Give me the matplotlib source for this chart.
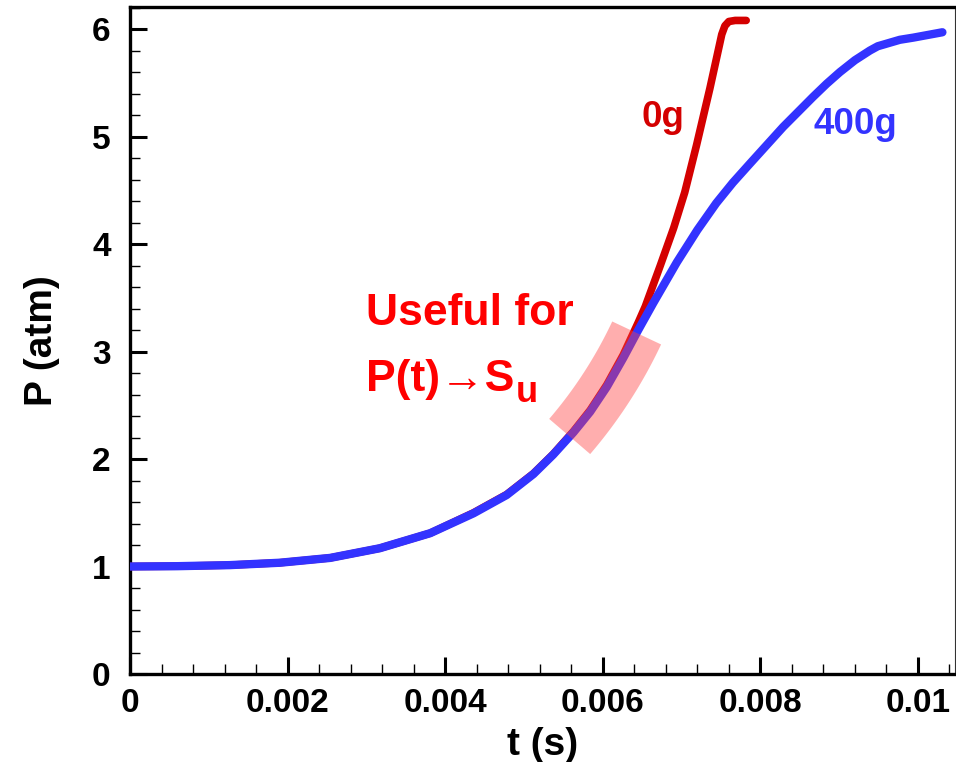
import numpy as np
import matplotlib
matplotlib.use("Agg")
import matplotlib.pyplot as plt
from matplotlib.ticker import FixedLocator, MultipleLocator, FixedFormatter
from matplotlib.patches import Polygon

plt.rcParams['font.family'] = ['Liberation Sans', 'DejaVu Sans']
plt.rcParams['font.weight'] = 'bold'

# Pressure traces, P (atm) versus t (s)
t_400g = [0.0, 0.0006, 0.00127, 0.0019, 0.00254, 0.00317, 0.00381, 0.00436,
          0.00478, 0.00512, 0.00537, 0.00563, 0.00584, 0.00605, 0.00626,
          0.00645, 0.00664, 0.00694, 0.0072, 0.00744, 0.00765, 0.00787,
          0.00808, 0.00829, 0.00848, 0.00867, 0.00884, 0.00901, 0.0092,
          0.00939, 0.00949, 0.00977, 0.00994, 0.01031]
p_400g = [1.0, 1.003, 1.013, 1.035, 1.08, 1.17, 1.31, 1.495,
          1.665, 1.86, 2.04, 2.25, 2.44, 2.67, 2.94,
          3.20, 3.45, 3.83, 4.13, 4.38, 4.57, 4.75,
          4.92, 5.09, 5.23, 5.37, 5.49, 5.60, 5.71,
          5.80, 5.84, 5.90, 5.92, 5.97]

t_0g = [0.0, 0.0006, 0.00127, 0.0019, 0.00254, 0.00317, 0.00381, 0.00436,
        0.00478, 0.00512, 0.00537, 0.00563, 0.00584, 0.00605, 0.00626,
        0.00645, 0.00654, 0.00673, 0.0069, 0.00704, 0.00719, 0.00736,
        0.00745, 0.00751, 0.00755, 0.0076, 0.00768, 0.00782]
p_0g = [1.0, 1.003, 1.013, 1.035, 1.08, 1.17, 1.31, 1.50,
        1.67, 1.865, 2.045, 2.26, 2.455, 2.69, 2.97,
        3.27, 3.42, 3.80, 4.15, 4.48, 4.92, 5.45,
        5.75, 5.95, 6.03, 6.07, 6.08, 6.08]

x_ticks = [0, 0.002, 0.004, 0.006, 0.008, 0.01]
x_tick_labels = ['0', '0.002', '0.004', '0.006', '0.008', '0.01']
y_ticks = [0, 1, 2, 3, 4, 5, 6]
y_tick_labels = ['0', '1', '2', '3', '4', '5', '6']

# Time window of the trace that is highlighted as useful for S_u
useful_window = (0.00558, 0.00643)

red_dark = '#d40000'
blue = '#3333ff'

fig = plt.figure(figsize=(9.56, 7.62), dpi=100)
ax = fig.add_axes([130 / 956, 1 - 674 / 762, 825 / 956, 667 / 762])
ax.set_xlim(0, 0.01047)
ax.set_ylim(0, 6.205)

ax.plot(t_0g, p_0g, color=red_dark, lw=5.5, solid_capstyle='round',
        solid_joinstyle='round', zorder=3)
ax.plot(t_400g, p_400g, color=blue, lw=6.0, solid_capstyle='round',
        solid_joinstyle='round', zorder=4)

# Highlight band: a circular arc through the 400g trace over the window
fig.canvas.draw()
tb = np.asarray(t_400g)
pb = np.asarray(p_400g)
t_sel = [useful_window[0], 0.5 * sum(useful_window), useful_window[1]]
pts = ax.transData.transform(np.column_stack([t_sel, np.interp(t_sel, tb, pb)]))
(x1, y1), (x2, y2), (x3, y3) = pts
d = 2 * (x1 * (y2 - y3) + x2 * (y3 - y1) + x3 * (y1 - y2))
cx = ((x1**2 + y1**2) * (y2 - y3) + (x2**2 + y2**2) * (y3 - y1)
      + (x3**2 + y3**2) * (y1 - y2)) / d
cy = ((x1**2 + y1**2) * (x3 - x2) + (x2**2 + y2**2) * (x1 - x3)
      + (x3**2 + y3**2) * (x2 - x1)) / d
r = np.hypot(x1 - cx, y1 - cy)
a1 = np.arctan2(y1 - cy, x1 - cx)
a3 = np.arctan2(y3 - cy, x3 - cx)
ang = np.linspace(a1, a3, 60)
half_w = 27.0
outer = np.column_stack([cx + (r + half_w) * np.cos(ang), cy + (r + half_w) * np.sin(ang)])
inner = np.column_stack([cx + (r - half_w) * np.cos(ang[::-1]), cy + (r - half_w) * np.sin(ang[::-1])])
band = ax.transData.inverted().transform(np.vstack([outer, inner]))
ax.add_patch(Polygon(band, closed=True, facecolor='#ff4040', edgecolor='none',
                     alpha=0.42, zorder=5))

# Axes frame and ticks
for side in ('left', 'bottom', 'top'):
    ax.spines[side].set_linewidth(2.4)
ax.spines['right'].set_linewidth(0.8)
ax.spines['right'].set_color('#333333')

ax.xaxis.set_major_locator(FixedLocator(x_ticks))
ax.xaxis.set_major_formatter(FixedFormatter(x_tick_labels))
ax.xaxis.set_minor_locator(MultipleLocator(0.0004))
ax.yaxis.set_major_locator(FixedLocator(y_ticks))
ax.yaxis.set_major_formatter(FixedFormatter(y_tick_labels))
ax.yaxis.set_minor_locator(MultipleLocator(0.2))

ax.tick_params(which='both', direction='in', top=False, right=False)
ax.tick_params(which='major', length=12, width=2.2, labelsize=24)
ax.tick_params(which='minor', length=7.5, width=1.0)
ax.tick_params(axis='x', which='major', pad=10)
ax.tick_params(axis='y', which='major', pad=14)
for lab in ax.get_xticklabels() + ax.get_yticklabels():
    lab.set_fontweight('bold')

ax.set_xlabel('t (s)', fontsize=28, fontweight='bold')
ax.set_ylabel('P (atm)', fontsize=28, fontweight='bold')
ax.xaxis.set_label_coords(0.5, -0.079)
ax.yaxis.set_label_coords(-0.085, 0.5)

# Curve labels and annotation
ax.text(0.006494, 5.09, '0g', color=red_dark, fontsize=26.5, fontweight='bold',
        ha='left', va='baseline', zorder=6)
ax.text(0.008671, 5.02, '400g', color=blue, fontsize=26.5, fontweight='bold',
        ha='left', va='baseline', zorder=6)
ax.text(0.00300, 3.243, 'Useful for', color='#ff0000', fontsize=32,
        fontweight='bold', ha='left', va='baseline', zorder=6)
main = ax.text(0.00300, 2.637, 'P(t)\u2192S', color='#ff0000', fontsize=32,
               fontweight='bold', ha='left', va='baseline', zorder=6)
ax.annotate('u', xy=(1, 0), xycoords=main, xytext=(1, -7.5),
            textcoords='offset points', color='#ff0000', fontsize=26,
            fontweight='bold', ha='left', va='bottom', zorder=6)

fig.savefig('out.png', dpi=100)
